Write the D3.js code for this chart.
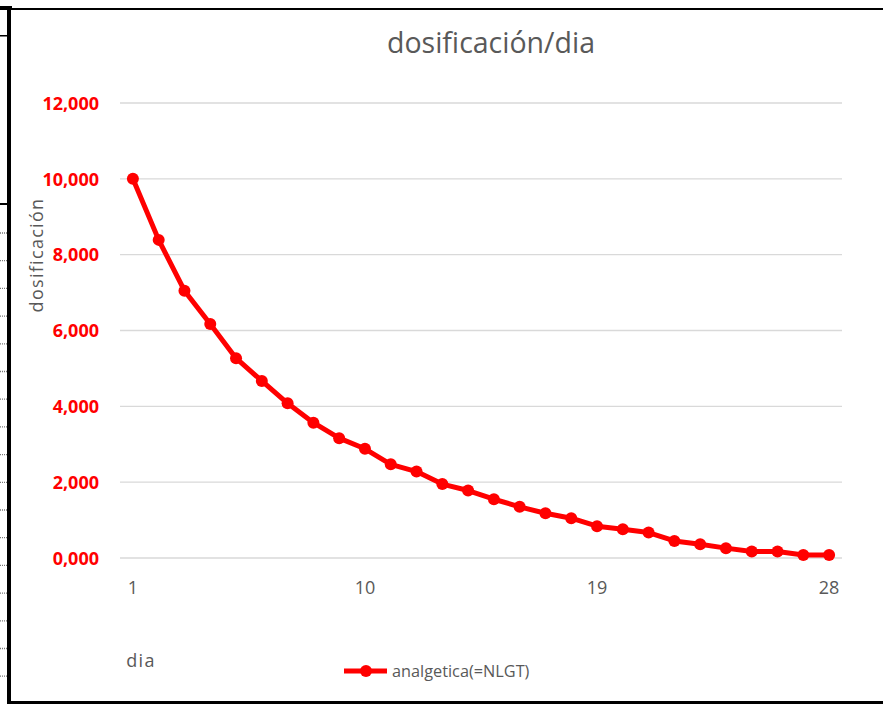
<!DOCTYPE html>
<html>
<head>
<meta charset="utf-8">
<script src="https://cdn.jsdelivr.net/npm/d3@7"></script>
<style>
  body { margin: 0; background: #fff; }
  svg { display: block; }
</style>
</head>
<body>
<svg class="chart" width="883" height="704"></svg>
<script>
// data
const days = d3.range(1, 29);
const dosis = [10000, 8390, 7050, 6170, 5270, 4670, 4080, 3570, 3160, 2880,
               2470, 2280, 1950, 1780, 1550, 1350, 1180, 1050, 840, 760,
               670, 450, 360, 260, 170, 170, 80, 80];
const yTicks = [0, 2000, 4000, 6000, 8000, 10000, 12000];
const xTickDays = [1, 10, 19, 28];

const seriesName = 'analgetica(=NLGT)';
const red = '#ff0000';
const grey = '#595959';
const font = '"Open Sans", "Noto Sans", sans-serif';

const svg = d3.select('svg.chart');

// sheet frame bits on the left
const frame = svg.append('g');
frame.append('rect').attr('x', 0).attr('y', 6).attr('width', 12).attr('height', 4).attr('fill', '#000');
frame.append('rect').attr('x', 7).attr('y', 7).attr('width', 4).attr('height', 697).attr('fill', '#000');
frame.append('rect').attr('x', 11).attr('y', 8).attr('width', 872).attr('height', 2).attr('fill', '#000');
frame.append('rect').attr('x', 11).attr('y', 701).attr('width', 872).attr('height', 3).attr('fill', '#000');
frame.append('rect').attr('x', 0).attr('y', 35).attr('width', 7).attr('height', 1.5).attr('fill', '#000');
frame.append('rect').attr('x', 0).attr('y', 203).attr('width', 7).attr('height', 2).attr('fill', '#000');
frame.selectAll('line.dot')
  .data(d3.range(233, 700, 27.7))
  .enter()
  .append('line')
  .attr('x1', 0).attr('x2', 7)
  .attr('y1', d => d).attr('y2', d => d)
  .style('stroke', '#777')
  .style('stroke-width', 1.3)
  .style('stroke-dasharray', '1,1');

// scales
const x = d3.scaleBand()
  .domain(days)
  .range([120, 842]);

const y = d3.scaleLinear()
  .domain([0, 12000])
  .range([558, 103]);

// gridlines
svg.append('g')
  .selectAll('line.grid')
  .data(yTicks)
  .enter()
  .append('line')
  .classed('grid', true)
  .attr('x1', 120).attr('x2', 842)
  .attr('y1', d => y(d)).attr('y2', d => y(d))
  .style('stroke', '#d9d9d9')
  .style('stroke-width', 1.3);

// y axis labels
const yAxis = d3.axisLeft(y).tickValues(yTicks).tickSize(0).tickPadding(0)
  .tickFormat(d => d3.format('d')(d / 1000) + ',000');
const yG = svg.append('g')
  .attr('transform', 'translate(99,0)')
  .call(yAxis);
yG.select('.domain').remove();
yG.selectAll('text')
  .style('font-family', font)
  .style('font-size', '18px')
  .style('font-weight', 'bold')
  .style('fill', red)
  .attr('dy', '0.35em');

// x axis labels
const xAxis = d3.axisBottom(x).tickValues(xTickDays).tickSize(0).tickPadding(0);
const xG = svg.append('g')
  .attr('transform', 'translate(0,588)')
  .call(xAxis);
xG.select('.domain').remove();
xG.selectAll('text')
  .style('font-family', font)
  .style('font-size', '18px')
  .style('fill', grey)
  .attr('y', 0)
  .attr('dy', '0.35em');

const cx = d => x(d) + x.bandwidth() / 2;

// series line
const line = d3.line()
  .x((d, i) => cx(days[i]))
  .y(d => y(d));

svg.append('path')
  .datum(dosis)
  .attr('d', line)
  .style('fill', 'none')
  .style('stroke', red)
  .style('stroke-width', 5)
  .style('stroke-linejoin', 'round');

svg.selectAll('circle.pt')
  .data(dosis)
  .enter()
  .append('circle')
  .classed('pt', true)
  .attr('cx', (d, i) => cx(days[i]))
  .attr('cy', d => y(d))
  .attr('r', 6)
  .style('fill', red);

// title
svg.append('text')
  .attr('x', 491).attr('y', 53)
  .attr('text-anchor', 'middle')
  .style('font-family', font)
  .style('font-size', '28.5px')
  .style('fill', grey)
  .text('dosificación/dia');

// axis titles
svg.append('text')
  .attr('transform', 'translate(43,255) rotate(-90)')
  .attr('text-anchor', 'middle')
  .style('font-family', font)
  .style('font-size', '18px')
  .style('letter-spacing', '1.3px')
  .style('fill', grey)
  .text('dosificación');

svg.append('text')
  .attr('x', 141).attr('y', 667)
  .attr('text-anchor', 'middle')
  .style('font-family', font)
  .style('font-size', '18px')
  .style('letter-spacing', '1.3px')
  .style('fill', grey)
  .text('dia');

// legend
const leg = svg.append('g').attr('transform', 'translate(344,671)');
leg.append('line')
  .attr('x1', 0).attr('x2', 43).attr('y1', 0).attr('y2', 0)
  .style('stroke', red).style('stroke-width', 5);
leg.append('circle').attr('cx', 22).attr('cy', 0).attr('r', 6).style('fill', red);
leg.append('text')
  .attr('x', 48).attr('y', 0).attr('dy', '0.35em')
  .style('font-family', font)
  .style('font-size', '16.3px')
  .style('fill', grey)
  .text(seriesName);
</script>
</body>
</html>
